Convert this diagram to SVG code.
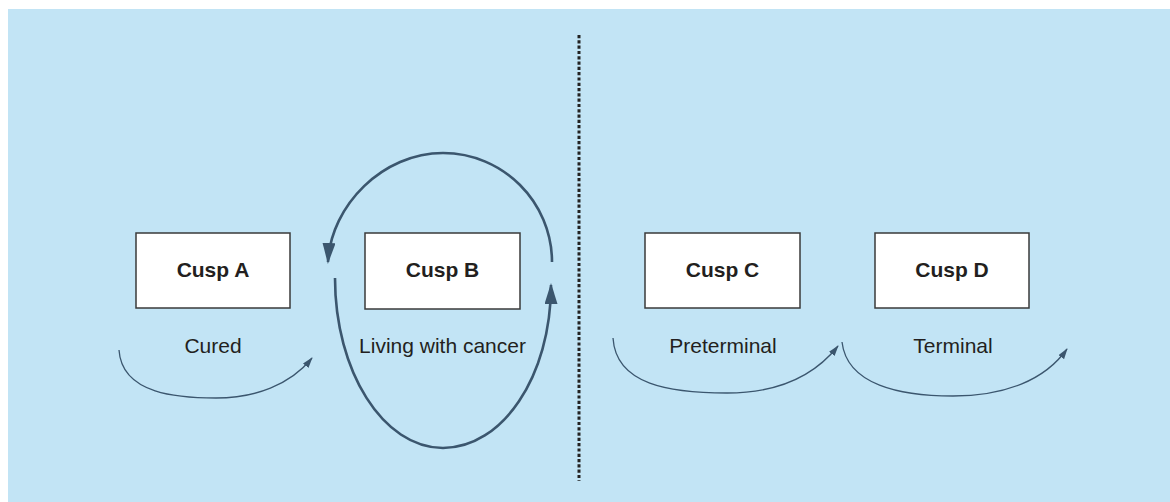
<svg xmlns="http://www.w3.org/2000/svg" width="1170" height="502" viewBox="0 0 1170 502">
  <style>
    .box { fill: #ffffff; stroke: #3a3a3a; stroke-width: 1.5; }
    .lbl { font-family: "Liberation Sans", Arial, sans-serif; font-size: 21px; fill: #231f20; text-anchor: middle; }
    .bold { font-weight: bold; }
    .thin { fill: none; stroke: #3b566e; stroke-width: 1.3; marker-end: url(#ah); }
    .thick { fill: none; stroke: #3b566e; stroke-width: 2.6; marker-end: url(#ahBig); }
  </style>
  <defs>
    <marker id="ah" markerUnits="userSpaceOnUse" markerWidth="11" markerHeight="8" refX="10" refY="3.5" orient="auto">
      <path d="M0,0 L11,3.5 L0,7 z" fill="#3b566e"/>
    </marker>
    <marker id="ahBig" markerUnits="userSpaceOnUse" markerWidth="21" markerHeight="13" refX="19" refY="6.5" orient="auto">
      <path d="M0,0 L21,6.5 L0,13 z" fill="#3b566e"/>
    </marker>
  </defs>
  <rect x="8" y="9" width="1162" height="493" fill="#c2e4f5"/>
  <line x1="579" y1="35" x2="579" y2="481" stroke="#222" stroke-width="3" stroke-dasharray="3.2 2.1"/>

  <g id="connectors">
    <path class="thin" d="M119,350 C122,395 180,398 216,398 C255,398 290,385 312,358"/>
    <path class="thin" d="M613,338 C616,385 670,393 727,393 C780,393 815,375 838,346"/>
    <path class="thin" d="M842,342 C847,385 900,396 953,396 C1005,396 1045,380 1067,349"/>
    <path class="thick" d="M552,262 C552,202 503,153 443,153 C383,153 331,205 328,262"/>
    <path class="thick" d="M335,278 C335,371 383,448 443,448 C502,448 551,377 551,285"/>
  </g>

  <g id="cuspA">
    <rect class="box" x="136" y="233" width="154" height="75"/>
    <text class="lbl bold" x="213" y="277">Cusp A</text>
    <text class="lbl" x="213" y="353">Cured</text>
  </g>
  <g id="cuspB">
    <rect class="box" x="365" y="233" width="155" height="76"/>
    <text class="lbl bold" x="442.5" y="277">Cusp B</text>
    <text class="lbl" x="442.5" y="353">Living with cancer</text>
  </g>
  <g id="cuspC">
    <rect class="box" x="645" y="233" width="155" height="75"/>
    <text class="lbl bold" x="722.5" y="277">Cusp C</text>
    <text class="lbl" x="723" y="353">Preterminal</text>
  </g>
  <g id="cuspD">
    <rect class="box" x="875" y="233" width="154" height="75"/>
    <text class="lbl bold" x="952" y="277">Cusp D</text>
    <text class="lbl" x="953" y="353">Terminal</text>
  </g>
</svg>
